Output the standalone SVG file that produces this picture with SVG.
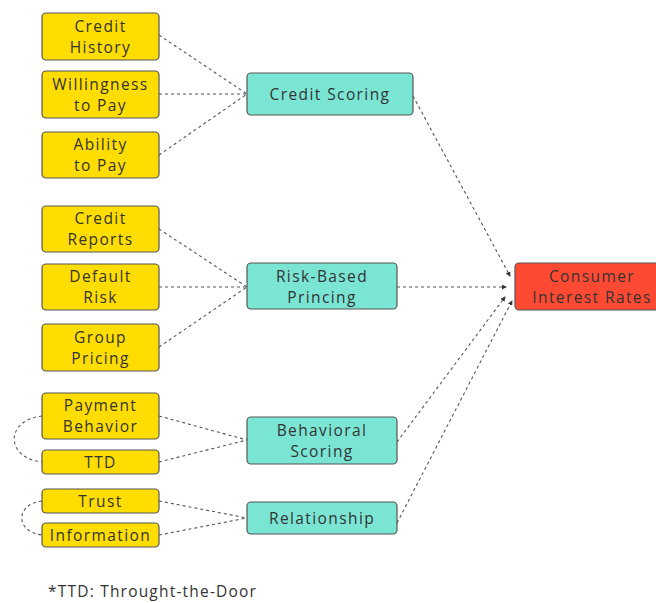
<svg xmlns="http://www.w3.org/2000/svg" width="656" height="603" viewBox="0 0 656 603">
<defs>
<style>
.y{fill:#FFDD00;stroke:#555;stroke-width:1.2}
.t{fill:#7AE5D3;stroke:#555;stroke-width:1.2}
.r{fill:#FF4A33;stroke:#555;stroke-width:1.2}
text{font-family:"Open Sans","DejaVu Sans",sans-serif;font-size:15.5px;fill:#333;text-anchor:middle;letter-spacing:1.4px}
.c path{fill:none;stroke:#555;stroke-width:1.1;stroke-dasharray:3 3}
.a{marker-end:url(#ah)}
</style>
<marker id="ah" viewBox="0 0 6 6" refX="5" refY="3" markerWidth="5" markerHeight="5" orient="auto" markerUnits="userSpaceOnUse">
<path d="M0,0 L6,3 L0,6 z" fill="#333"/>
</marker>
</defs>
<rect width="656" height="603" fill="#fff"/>
<g class="c" id="connectors">
<path d="M159,35 L247,94"/>
<path d="M159,94 L247,94"/>
<path d="M159,155 L247,94"/>
<path d="M159,229 L247,287"/>
<path d="M159,287 L247,287"/>
<path d="M159,347 L247,287"/>
<path d="M159,416 L247,440"/>
<path d="M159,462 L247,440"/>
<path d="M159,501 L247,518"/>
<path d="M159,535 L247,518"/>
<path d="M42,416 C5,420 5,458 42,462"/>
<path d="M42,501 C15,504 15,532 42,535"/>
<path class="a" d="M413,96 L510,276"/>
<path class="a" d="M397,287 L506,287"/>
<path class="a" d="M397,442 L505,297"/>
<path class="a" d="M397,523 L512,301"/>
</g>
<g id="credit-history"><rect class="y" x="42" y="13" width="117" height="47" rx="4"/><text x="100.5" y="31.5">Credit</text><text x="100.5" y="52.5">History</text></g>
<g id="willingness"><rect class="y" x="42" y="71" width="117" height="47" rx="4"/><text x="100.5" y="89.5">Willingness</text><text x="100.5" y="110.5">to Pay</text></g>
<g id="ability"><rect class="y" x="42" y="132" width="117" height="46" rx="4"/><text x="100.5" y="150">Ability</text><text x="100.5" y="171">to Pay</text></g>
<g id="credit-reports"><rect class="y" x="42" y="206" width="117" height="46" rx="4"/><text x="100.5" y="224">Credit</text><text x="100.5" y="245">Reports</text></g>
<g id="default-risk"><rect class="y" x="42" y="264" width="117" height="46" rx="4"/><text x="100.5" y="282">Default</text><text x="100.5" y="303">Risk</text></g>
<g id="group-pricing"><rect class="y" x="42" y="324" width="117" height="47" rx="4"/><text x="100.5" y="342.5">Group</text><text x="100.5" y="363.5">Pricing</text></g>
<g id="payment-behavior"><rect class="y" x="42" y="393" width="117" height="46" rx="4"/><text x="100.5" y="411">Payment</text><text x="100.5" y="432">Behavior</text></g>
<g id="ttd"><rect class="y" x="42" y="450" width="117" height="24" rx="4"/><text x="100.5" y="467.5">TTD</text></g>
<g id="trust"><rect class="y" x="42" y="489" width="117" height="24" rx="4"/><text x="100.5" y="506.5">Trust</text></g>
<g id="information"><rect class="y" x="42" y="523" width="117" height="24" rx="4"/><text x="100.5" y="540.5">Information</text></g>
<g id="credit-scoring"><rect class="t" x="247" y="73" width="166" height="42" rx="4"/><text x="330" y="99.5">Credit Scoring</text></g>
<g id="risk-based-pricing"><rect class="t" x="247" y="263" width="150" height="46" rx="4"/><text x="322" y="281.5">Risk-Based</text><text x="322" y="302.5">Princing</text></g>
<g id="behavioral-scoring"><rect class="t" x="247" y="417" width="150" height="47" rx="4"/><text x="322" y="436">Behavioral</text><text x="322" y="457">Scoring</text></g>
<g id="relationship"><rect class="t" x="247" y="502" width="150" height="32" rx="4"/><text x="322" y="523.5">Relationship</text></g>
<g id="consumer-interest-rates"><rect class="r" x="515" y="263" width="154" height="47" rx="4"/><text x="592" y="281.5">Consumer</text><text x="592" y="302.5">Interest Rates</text></g>
<text x="48" y="597" style="text-anchor:start;letter-spacing:1.2px">*TTD: Throught-the-Door</text>
</svg>
